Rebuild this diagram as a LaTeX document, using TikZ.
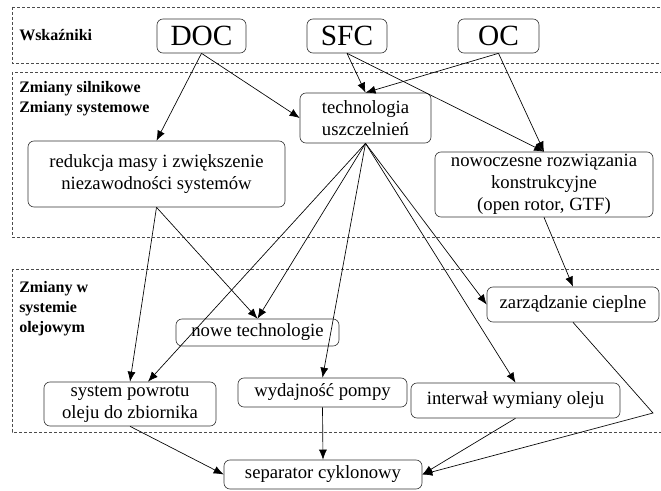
\documentclass[tikz,border=0pt]{standalone}
\usepackage{fontspec}
\setmainfont{LiberationSerif}[Extension=.ttf,UprightFont=*-Regular,BoldFont=*-Bold]
\usetikzlibrary{arrows.meta}
\begin{document}
\begin{tikzpicture}[x=0.75pt,y=-0.75pt,
  box/.style={draw=black!80,line width=0.5pt,rounded corners=4.5pt,align=center,inner sep=0pt,
    font=\fontsize{14}{16.5}\selectfont},
  idx/.style={box,font=\fontsize{22}{24}\selectfont},
  band/.style={draw=black!70,line width=0.5pt,dash pattern=on 2.25pt off 1.5pt},
  bandlabel/.style={anchor=west,align=left,inner sep=0pt,font=\bfseries\fontsize{12}{15}\selectfont},
  link/.style={line width=0.5pt,-{Latex[length=7.5pt,width=6pt]}}]
 \clip (0,0) rectangle (661,491);
 % pasy
 \draw[band] (12,7) rectangle (670,63);
 \draw[band] (12,72) rectangle (670,237);
 \draw[band] (12,269) rectangle (670,432);
 \node[bandlabel] (lwsk) at (19,35) {Wskaźniki};
 \node[bandlabel] (lsil) at (19,99) {Zmiany silnikowe\\Zmiany systemowe};
 \node[bandlabel] (lole) at (19,308.5) {Zmiany w\\systemie\\olejowym};
 % wskazniki
 \node[idx,minimum width=66.75pt,minimum height=25.5pt] (doc) at (201.5,36) {DOC};
 \node[idx,minimum width=60pt,minimum height=25.5pt] (sfc) at (347,36) {SFC};
 \node[idx,minimum width=60.75pt,minimum height=25.5pt] (oc) at (498.5,36) {OC};
 % zmiany silnikowe / systemowe
 \node[box,minimum width=98.25pt,minimum height=37.5pt] (tech) at (365.5,118) {technologia\\uszczelnień};
 \node[box,minimum width=192.75pt,minimum height=49.5pt] (red) at (156.5,174) {redukcja masy i zwiększenie\\niezawodności systemów};
 \node[box,minimum width=163.5pt,minimum height=48.75pt] (now) at (544,184.5) {nowoczesne rozwiązania\\konstrukcyjne\\(open rotor, GTF)};
 % system olejowy
 \node[box,minimum width=129pt,minimum height=26.25pt] (zar) at (573,304.5) {zarządzanie cieplne};
 \node[box,minimum width=122.25pt,minimum height=20.25pt] (nowe) at (257.5,332.5) {nowe technologie};
 \node[box,minimum width=129pt,minimum height=33pt] (sys) at (130,404) {system powrotu\\oleju do zbiornika};
 \node[box,minimum width=126.75pt,minimum height=21.75pt] (wyd) at (322.5,392.5) {wydajność pompy};
 \node[box,minimum width=156.75pt,minimum height=26.25pt] (int) at (515.5,400.5) {interwał wymiany oleju};
 \node[box,minimum width=148.5pt,minimum height=21.75pt] (sep) at (323,474.5) {separator cyklonowy};
 \coordinate (bend) at (653,413);
 % polaczenia
 \draw[link] (doc.south) -- (red.north);
 \draw[link] (doc.south) -- (tech.west);
 \draw[link] (sfc.south) -- (tech.north);
 \draw[link] (sfc.south) -- (now.north);
 \draw[link] (oc.south) -- (tech.north);
 \draw[link] (oc.south) -- (now.north);
 \draw[link] (red.south) -- (sys.north);
 \draw[link] (red.south) -- (nowe.north);
 \draw[link] (tech.south) -- ([xshift=13.5pt]sys.north);
 \draw[link] (tech.south) -- (nowe.north);
 \draw[link] (tech.south) -- (wyd.north);
 \draw[link] (tech.south) -- (int.north);
 \draw[link] (tech.south) -- (zar.west);
 \draw[link] (now.south) -- (zar.north);
 \draw[link] (sys.south) -- (sep.west);
 \draw[link] (wyd.south) -- (sep.north);
 \draw[link] (int.south) -- (sep.east);
 \draw[link] (zar.south) -- (bend) -- (sep.east);
\end{tikzpicture}
\end{document}
